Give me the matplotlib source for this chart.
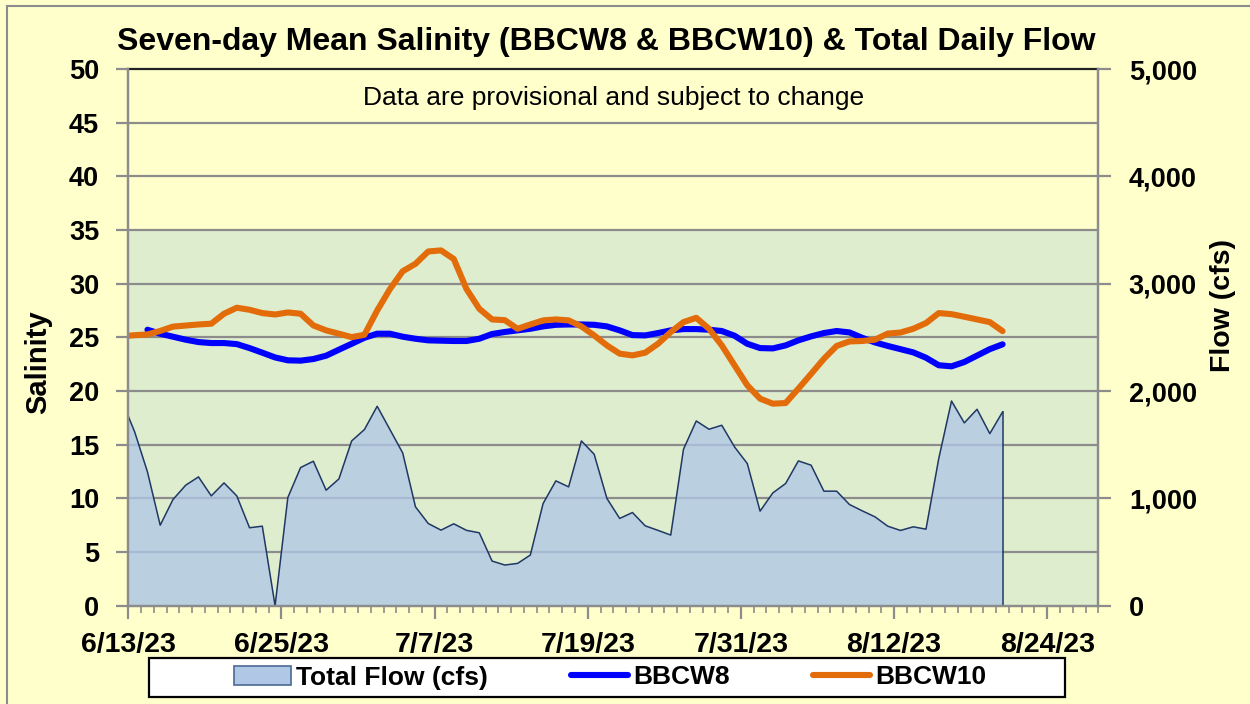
import numpy as np
import pandas as pd
import matplotlib
matplotlib.use("Agg")
import matplotlib.pyplot as plt
import matplotlib.dates as mdates
import matplotlib.ticker as mticker
from matplotlib.patches import Rectangle, Patch

plt.rcParams['font.family'] = ['Liberation Sans', 'DejaVu Sans']

"""
Daily values, 6/13/23 - 8/20/23
"""
start = '2023-06-13'

# Total daily flow (cfs); the 6/12 value only feeds the clipped left edge
flow_0612 = 1910
flow = [1619, 1247, 750, 989, 1123, 1200, 1023, 1144, 1023, 726,
        741, 0, 1008, 1287, 1346, 1076, 1181, 1535, 1641, 1858,
        1641, 1423, 921, 766, 704, 763, 702, 679, 416, 379,
        394, 472, 952, 1163, 1107, 1535, 1411, 999, 813, 868,
        744, 702, 658, 1458, 1721, 1644, 1681, 1479, 1324, 881,
        1051, 1138, 1349, 1309, 1067, 1067, 943, 884, 828, 741,
        701, 735, 713, 1371, 1907, 1703, 1830, 1603, 1805]

# Seven-day mean salinity, BBCW8 starts on 6/14
bbcw8 = [np.nan, 25.71, 25.34, 25.06, 24.78, 24.56, 24.47, 24.47, 24.37, 24.0,
         23.57, 23.13, 22.86, 22.83, 22.98, 23.29, 23.85, 24.4, 24.96, 25.34,
         25.34, 25.06, 24.87, 24.72, 24.69, 24.66, 24.66, 24.87, 25.31, 25.5,
         25.65, 25.8, 26.02, 26.17, 26.2, 26.2, 26.17, 26.02, 25.65, 25.21,
         25.18, 25.4, 25.65, 25.77, 25.77, 25.71, 25.59, 25.15, 24.4, 24.0,
         23.97, 24.25, 24.72, 25.09, 25.4, 25.59, 25.46, 24.96, 24.53, 24.2,
         23.9, 23.6, 23.1, 22.4, 22.3, 22.7, 23.3, 23.9, 24.35]

bbcw10_0612 = 25.1
bbcw10 = [25.2, 25.27, 25.6, 26.0, 26.1, 26.2, 26.27, 27.2, 27.76, 27.57,
          27.26, 27.13, 27.32, 27.2, 26.11, 25.65, 25.34, 25.02, 25.24, 27.5,
          29.5, 31.16, 31.85, 33.0, 33.1, 32.3, 29.5, 27.66, 26.67, 26.6,
          25.8, 26.2, 26.58, 26.67, 26.58, 26.02, 25.18, 24.25, 23.48, 23.32,
          23.57, 24.4, 25.49, 26.42, 26.82, 25.8, 24.25, 22.39, 20.53, 19.29,
          18.82, 18.88, 20.22, 21.6, 23.0, 24.2, 24.62, 24.66, 24.78, 25.35,
          25.45, 25.8, 26.33, 27.26, 27.16, 26.92, 26.67, 26.42, 25.58]

days = pd.date_range(start, periods=len(flow), freq='D')
prev_day = days[0] - pd.Timedelta(days=1)
# points sit in the middle of each day slot
half = pd.Timedelta(hours=12)
x = days + half
x_ext = pd.DatetimeIndex([prev_day]).append(days) + half
flow_ext = [flow_0612] + flow
bbcw10_ext = [bbcw10_0612] + bbcw10

x_min = pd.Timestamp('2023-06-13')
x_max = pd.Timestamp('2023-08-28')

bg = '#FFFFCC'
grid_c = '#8C8C8C'
W, H = 1250, 704

fig = plt.figure(figsize=(W / 100, H / 100), dpi=100, facecolor=bg)
fig.patches.append(Rectangle((7 / W, -0.1), 1.2, 1 - 6 / H + 0.1,
                             transform=fig.transFigure, fill=False,
                             edgecolor=grid_c, linewidth=1.5))

ax = fig.add_axes([128.3 / W, 1 - 605.7 / H, 970 / W, 536.7 / H])
ax2 = ax.twinx()
ax.set_zorder(ax2.get_zorder() + 1)
ax.patch.set_visible(False)

# background bands and grid live on the flow axis, under the fill
ax2.set_facecolor('#FFFFF3')
ax2.axhspan(0, 3500, color='#DFEDCF', zorder=0, linewidth=0)
for g in np.arange(500, 5000, 500):
    ax2.axhline(g, color=grid_c, linewidth=1.6, zorder=1)
ax2.axhline(5000, color='#222222', linewidth=1.6, zorder=1, clip_on=False)

area_fc = '#B0C7E6'
area_ec = '#1F3864'
ax2.fill_between(x_ext, flow_ext, 0, facecolor=area_fc, alpha=0.78,
                 edgecolor='none', zorder=2)
ax2.plot(x_ext, flow_ext, color=area_ec, linewidth=1.1, zorder=3)
ax2.plot([x[-1], x[-1]], [0, flow[-1]], color=area_ec, linewidth=1.1, zorder=3)

l8, = ax.plot(x, bbcw8, color='#0000FF', linewidth=4.4,
              solid_capstyle='round', solid_joinstyle='round')
l10, = ax.plot(x_ext, bbcw10_ext, color='#E36C0A', linewidth=4.4,
               solid_capstyle='round', solid_joinstyle='round')

ax.set_xlim(x_min, x_max)
ax.set_ylim(0, 50)
ax2.set_ylim(0, 5000)

ax.set_yticks(np.arange(0, 51, 5))
ax2.set_yticks(np.arange(0, 5001, 1000))
ax2.yaxis.set_major_formatter(mticker.FuncFormatter(lambda v, p: f'{int(v):,}'))

major = pd.date_range(x_min, x_max, freq='12D')
minor = pd.date_range(x_min, x_max, freq='D')
ax.xaxis.set_major_locator(mticker.FixedLocator(mdates.date2num(major)))
ax.xaxis.set_minor_locator(mticker.FixedLocator(mdates.date2num(minor)))
ax.xaxis.set_major_formatter(mticker.FuncFormatter(
    lambda v, p: (lambda d: f'{d.month}/{d.day}/{d:%y}')(mdates.num2date(v))))

fs = 19.5
for a in (ax, ax2):
    for s in a.spines.values():
        s.set_color(grid_c)
        s.set_linewidth(1.6)
    a.spines['top'].set_visible(False)
ax.tick_params(axis='y', which='major', length=9, width=1.6, color=grid_c,
               labelsize=fs, pad=12)
ax2.tick_params(axis='y', which='major', length=9, width=1.6, color=grid_c,
                labelsize=fs, pad=13)
ax.tick_params(axis='x', which='major', length=9, width=1.6, color=grid_c,
               labelsize=20.5, pad=10)
ax.tick_params(axis='x', which='minor', length=5, width=1.2, color=grid_c)
ax2.tick_params(axis='x', which='both', bottom=False, labelbottom=False)
for lbl in ax.get_yticklabels() + ax2.get_yticklabels() + ax.get_xticklabels():
    lbl.set_fontweight('bold')

ax.set_ylabel('Salinity', fontsize=21, fontweight='bold')
ax.yaxis.set_label_coords((52 - 128.3) / 970, (605.7 - 362) / 536.7)
ax2.set_ylabel('Flow (cfs)', fontsize=20.5, fontweight='bold')
ax2.yaxis.set_label_coords((1210 - 128.3) / 970, (605.7 - 306) / 536.7)

fig.text(606 / W, 1 - 42 / H,
         'Seven-day Mean Salinity (BBCW8 & BBCW10) & Total Daily Flow',
         ha='center', va='center', fontsize=23, fontweight='bold')
ax.text(0.5, (605.7 - 98) / 536.7, 'Data are provisional and subject to change',
        transform=ax.transAxes, ha='center', va='center', fontsize=19)

# legend box drawn separately so it can be wider than its entries
fig.patches.append(Rectangle((149 / W, 1 - 697 / H), (1065 - 149) / W, 39 / H,
                             transform=fig.transFigure, facecolor='white',
                             edgecolor='black', linewidth=1.6, zorder=5))
flow_handle = Patch(facecolor=area_fc, edgecolor='#4A6A94', linewidth=1.2)
leg = fig.legend([flow_handle, l8, l10], ['Total Flow (cfs)', 'BBCW8', 'BBCW10'],
                 loc='center', bbox_to_anchor=(610 / W, 1 - 677.5 / H),
                 ncol=3, frameon=False, handlelength=2.15, handletextpad=0.2,
                 columnspacing=3.15, borderpad=0.2,
                 prop={'weight': 'bold', 'size': 19})
leg.set_zorder(6)

fig.savefig('out.png', dpi=100, facecolor=bg)
